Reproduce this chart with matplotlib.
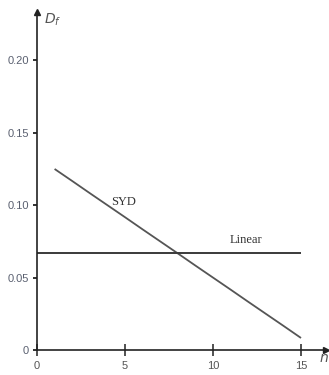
import matplotlib
matplotlib.use("Agg")
import matplotlib.pyplot as plt

# Depreciation fraction per year: sum-of-years'-digits vs straight line
syd_years = [1, 2, 3, 4, 5, 6, 7, 8, 9, 10, 11, 12, 13, 14, 15]
syd_values = [0.1250, 0.1167, 0.1083, 0.1000, 0.0917, 0.0833, 0.0750, 0.0667,
              0.0583, 0.0500, 0.0417, 0.0333, 0.0250, 0.0167, 0.0083]
linear_years = [0, 15]
linear_values = [0.0667, 0.0667]

x_ticks = [0, 5, 10, 15]
x_tick_labels = ["0", "5", "10", "15"]
y_ticks = [0, 0.05, 0.10, 0.15, 0.20]
y_tick_labels = ["0", "0.05", "0.10", "0.15", "0.20"]

plt.rcParams["font.family"] = ["Liberation Serif", "DejaVu Serif"]
tick_font = ["Liberation Sans", "DejaVu Sans"]

fig = plt.figure(figsize=(3.29, 3.75), dpi=100)
ax = fig.add_axes([37 / 329, 25 / 375, 289 / 329, 338 / 375])

ax.plot(syd_years, syd_values, color="#555555", lw=1.3, solid_capstyle="butt")
ax.plot(linear_years, linear_values, color="#3a3a3a", lw=1.4, solid_capstyle="butt")

ax.set_xlim(0, 16.42)
ax.set_ylim(0, 0.2334)

for side in ("top", "right"):
    ax.spines[side].set_visible(False)
for side in ("left", "bottom"):
    ax.spines[side].set_color("#222222")
    ax.spines[side].set_linewidth(1.2)

# arrowheads at the ends of the axes
ax.plot(1, 0, ">", color="#222222", ms=4, transform=ax.transAxes, clip_on=False)
ax.plot(0, 1, "^", color="#222222", ms=4, transform=ax.transAxes, clip_on=False)

ax.set_xticks(x_ticks)
ax.set_xticklabels(x_tick_labels, family=tick_font)
ax.set_yticks(y_ticks)
ax.set_yticklabels(y_tick_labels, family=tick_font)
ax.tick_params(axis="x", direction="inout", length=8, width=1.1, colors="#222222",
               labelsize=8, labelcolor="#555555", pad=4)
ax.tick_params(axis="y", direction="out", length=3, width=1.3, colors="#222222",
               labelsize=8, labelcolor="#5a6070", pad=3)

ax.text(4.9, 0.102, "SYD", fontsize=9, color="#333333", ha="center", va="center")
ax.text(11.9, 0.076, "Linear", fontsize=9, color="#333333", ha="center", va="center")

fig.text(44 / 329, 1 - 12 / 375, "$D_f$", fontsize=10, color="#555555",
         ha="left", va="top")
fig.text(1.0, 1 - 352 / 375, "$n$", fontsize=10, color="#555555",
         ha="right", va="top")

fig.savefig("out.png", dpi=100)
